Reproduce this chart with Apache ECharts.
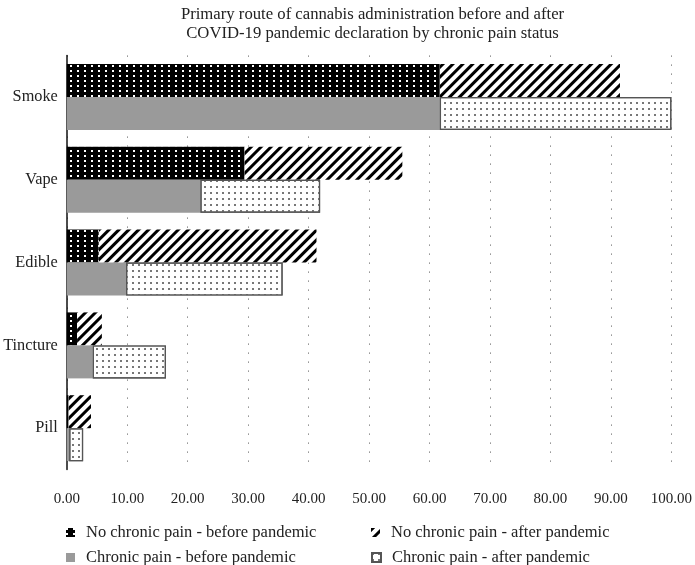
<!DOCTYPE html>
<html>
<head>
<meta charset="utf-8">
<script src="https://cdn.jsdelivr.net/npm/echarts@6/dist/echarts.min.js"></script>
<style>html,body{margin:0;padding:0;background:#fff;}#c{width:695px;height:565px;}</style>
</head>
<body>
<div id="c"></div>
<script>
var categories = ['Smoke', 'Vape', 'Edible', 'Tincture', 'Pill'];
var noPainBefore = [61.7, 29.4, 5.3, 1.7, 0.3];
var noPainAfter = [29.8, 26.1, 36.0, 4.1, 3.7];
var chronicBefore = [61.7, 22.1, 9.8, 4.3, 0.4];
var chronicAfter = [38.3, 19.8, 25.9, 12.1, 2.3];
var xTicks = [0, 10, 20, 30, 40, 50, 60, 70, 80, 90, 100];
var seriesNames = ['No chronic pain - before pandemic', 'No chronic pain - after pandemic',
  'Chronic pain - before pandemic', 'Chronic pain - after pandemic'];

var FONT = 'Liberation Serif';
var chart = echarts.init(document.getElementById('c'));
function leg(name, left, top) {
  return {
    data: [name], orient: 'horizontal', left: left, top: top, icon: 'rect',
    itemWidth: 9, itemHeight: 9, itemGap: 10, padding: 0,
    textStyle: { fontFamily: FONT, fontSize: 16.5, color: '#222', padding: [0, 0, 0, 6] }
  };
}
var option = {
  backgroundColor: '#fff',
  animation: false,
  title: {
    text: 'Primary route of cannabis administration before and after\nCOVID-19 pandemic declaration by chronic pain status',
    left: 367.5, top: 0, textAlign: 'center',
    textStyle: { fontFamily: FONT, fontSize: 16.7, fontWeight: 'normal', color: '#222', lineHeight: 19 }
  },
  legend: [
    leg(seriesNames[0], 66, 524),
    leg(seriesNames[2], 66, 549),
    leg(seriesNames[1], 371, 524),
    leg(seriesNames[3], 371, 549)
  ],
  grid: { left: 66.8, right: 16, top: 55.6, height: 414, containLabel: false },
  xAxis: {
    type: 'value', min: xTicks[0], max: xTicks[xTicks.length - 1], interval: 10,
    axisLine: { show: false }, axisTick: { show: false },
    axisLabel: { formatter: function (v) { return v.toFixed(2); }, fontFamily: FONT, fontSize: 15, color: '#222', margin: 22 },
    splitLine: { show: true, lineStyle: { color: '#555', width: 1, type: [1, 8] } }
  },
  yAxis: {
    type: 'category', data: categories, inverse: true,
    axisLine: { show: true, lineStyle: { color: '#111', width: 1.5 } },
    axisTick: { show: false },
    axisLabel: { fontFamily: FONT, fontSize: 16.3, color: '#222', margin: 9 }
  },
  series: [
    { name: seriesNames[0], type: 'bar', stack: 'np', data: noPainBefore, barWidth: 33, barGap: '0%',
      itemStyle: { color: '#000',
        decal: { symbol: 'rect', symbolSize: 1, color: '#fff', dashArrayX: [1.3, 4.5], dashArrayY: [1.5, 3] } } },
    { name: seriesNames[1], type: 'bar', stack: 'np', data: noPainAfter, barWidth: 33, barGap: '0%',
      itemStyle: { color: '#fff',
        decal: { symbol: 'rect', symbolSize: 1, color: '#000', dashArrayX: [1, 0], dashArrayY: [3, 3.5], rotation: -Math.PI / 4 } } },
    { name: seriesNames[2], type: 'bar', stack: 'cp', data: chronicBefore, barWidth: 33, barGap: '0%',
      itemStyle: { color: '#9a9a9a' } },
    { name: seriesNames[3], type: 'bar', stack: 'cp', data: chronicAfter, barWidth: 33, barGap: '0%',
      itemStyle: { color: '#fff', borderColor: '#555', borderWidth: 1.2,
        decal: { symbol: 'rect', symbolSize: 1, color: '#777', dashArrayX: [1.2, 3.3], dashArrayY: [1.2, 3.3] } } }
  ]
};
chart.setOption(option);
</script>
</body>
</html>
